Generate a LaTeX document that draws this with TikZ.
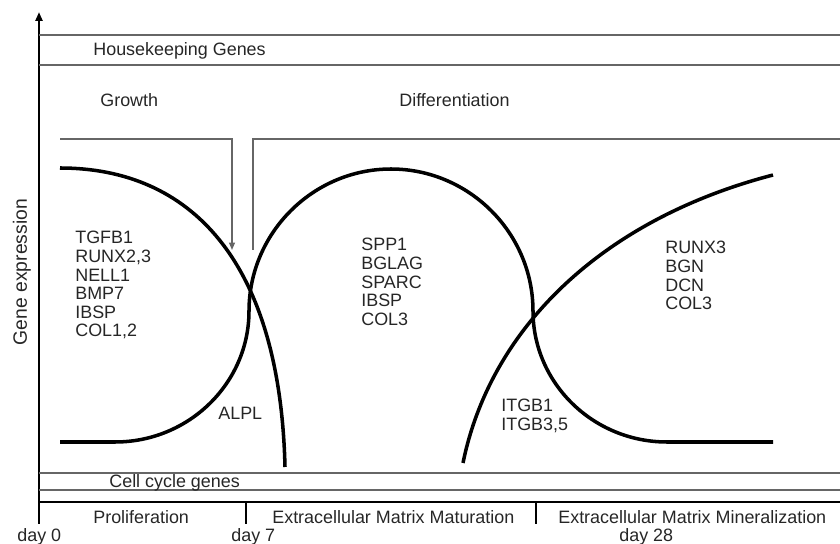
\documentclass[tikz,border=0pt]{standalone}
\usepackage{fontspec}
\setmainfont{Liberation Sans}
\usetikzlibrary{arrows.meta}
\begin{document}
\begin{tikzpicture}[x=0.02cm,y=-0.02cm,
    band/.style={line width=0.7pt,black!60},
    axis/.style={line width=1.6pt},
    curve/.style={line width=2pt},
    lbl/.style={inner sep=0pt,text=black!85,font=\fontsize{10.2}{10.6}\selectfont},
    genes/.style={lbl,align=left,anchor=north west}]
  \useasboundingbox (0,0) rectangle (840,544);
  \coordinate (ybot) at (39,524);
  \coordinate (ytop) at (39,12);
  \coordinate (xbeg) at (39,502);
  \coordinate (xend) at (852,502);
  \draw[axis,-{Triangle[length=0.18cm,width=0.14cm]}] (ybot) -- (ytop);
  \draw[axis,-{Triangle[length=0.18cm,width=0.14cm]}] (xbeg) -- (xend);
  \draw[axis] (246,502) -- (246,524);
  \draw[axis] (536,502) -- (536,524);
  \draw[band] (39,35) -- (840,35);
  \draw[band] (39,65) -- (840,65);
  \draw[band] (39,473) -- (840,473);
  \draw[band] (39,490) -- (840,490);
  \coordinate (gbeg) at (60,139);
  \coordinate (gtip) at (232,250);
  \coordinate (dbeg) at (253,250);
  \coordinate (dend) at (850,139);
  \draw[band,-{Triangle[length=0.15cm,width=0.12cm]}] (gbeg) -| (gtip);
  \draw[band,-{Triangle[length=0.15cm,width=0.12cm]}] (dbeg) |- (dend);
  \draw[curve] (60,168) .. controls (190,168) and (280,260) .. (285,467);
  \draw[curve] (60,442) -- (115,442) .. controls (189,442) and (249,383) .. (249,311)
    .. controls (249,233) and (313,169) .. (391,169)
    .. controls (469,169) and (533,233) .. (533,311)
    .. controls (533,383) and (593,442) .. (667,442) -- (773,442);
  \draw[curve] (463,463) .. controls (490,330) and (600,220) .. (773,175);
  \node[lbl,anchor=base west] (hk) at (93,56) {Housekeeping Genes};
  \node[lbl,anchor=base west] (growth) at (100,107) {Growth};
  \node[lbl,anchor=base west] (diff) at (399,107) {Differentiation};
  \node[lbl,anchor=base west] (cc) at (109,488) {Cell cycle genes};
  \node[lbl,anchor=base west] (prolif) at (93,523) {Proliferation};
  \node[lbl,anchor=base west] (ecmmat) at (272,523) {Extracellular Matrix Maturation};
  \node[lbl,anchor=base west] (ecmmin) at (558,523) {Extracellular Matrix Mineralization};
  \node[lbl,anchor=base west] (day0) at (17,541) {day 0};
  \node[lbl,anchor=base west] (day7) at (231,541) {day 7};
  \node[lbl,anchor=base west] (day28) at (619,541) {day 28};
  \node[lbl,rotate=90,font=\fontsize{11}{12}\selectfont] (ylab) at (22,272) {Gene expression};
  \node[genes] (early) at (75,231) {TGFB1\\RUNX2,3\\NELL1\\BMP7\\IBSP\\COL1,2};
  \node[genes] (mid) at (361,238) {SPP1\\BGLAG\\SPARC\\IBSP\\COL3};
  \node[genes] (late) at (665,241) {RUNX3\\BGN\\DCN\\COL3};
  \node[lbl,anchor=base west] (alpl) at (218,419) {ALPL};
  \node[genes] (itgb) at (501,399) {ITGB1\\ITGB3,5};
\end{tikzpicture}
\end{document}
